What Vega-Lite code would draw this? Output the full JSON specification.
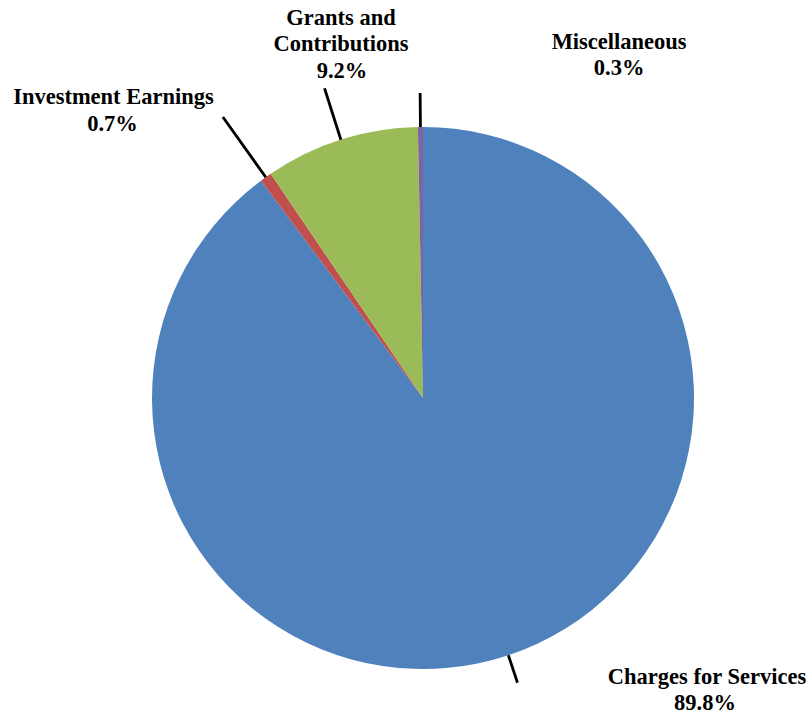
{
  "$schema": "https://vega.github.io/schema/vega-lite/v6.json",
  "width": 778,
  "height": 634,
  "autosize": "none",
  "padding": {"left": 34, "top": 81, "right": 0, "bottom": 0},
  "background": "white",
  "config": {"view": {"stroke": null}},
  "data": {
    "values": [
      {"category": "Charges for Services", "label": "Charges for Services", "share": 0.898, "order": 1},
      {"category": "Investment Earnings", "label": "Investment Earnings", "share": 0.007, "order": 2},
      {"category": "Grants and Contributions", "label": "Grants and\nContributions", "share": 0.092, "order": 3},
      {"category": "Miscellaneous", "label": "Miscellaneous", "share": 0.003, "order": 4}
    ]
  },
  "transform": [
    {"stack": "share", "groupby": [], "sort": [{"field": "order", "order": "ascending"}], "as": ["s0", "s1"]},
    {"fold": ["s0", "s1"], "as": ["edge", "ang"]},
    {
      "aggregate": [
        {"op": "min", "field": "ang", "as": "a0"},
        {"op": "max", "field": "ang", "as": "a1"},
        {"op": "mean", "field": "ang", "as": "mid"},
        {"op": "max", "field": "share", "as": "share"}
      ],
      "groupby": ["category", "label", "order"]
    }
  ],
  "layer": [
    {
      "mark": {"type": "arc", "radius": 271},
      "encoding": {
        "theta": {"field": "a0", "type": "quantitative", "stack": null, "scale": {"domain": [0, 1]}},
        "theta2": {"field": "a1"},
        "color": {
          "field": "category",
          "type": "nominal",
          "scale": {
            "domain": ["Charges for Services", "Investment Earnings", "Grants and Contributions", "Miscellaneous"],
            "range": ["#4F81BD", "#C0504D", "#9BBB59", "#8064A2"]
          },
          "legend": null
        }
      }
    },
    {
      "transform": [{"filter": "datum.order == 1"}],
      "mark": {"type": "arc", "radius": 300, "radius2": 271, "stroke": "black", "fill": "black", "strokeWidth": 2.8},
      "encoding": {"theta": {"field": "mid", "type": "quantitative", "stack": null}, "theta2": {"field": "mid"}}
    },
    {
      "transform": [{"filter": "datum.order == 2"}],
      "mark": {"type": "arc", "radius": 345, "radius2": 271, "stroke": "black", "fill": "black", "strokeWidth": 2.8},
      "encoding": {"theta": {"field": "mid", "type": "quantitative", "stack": null}, "theta2": {"field": "mid"}}
    },
    {
      "transform": [{"filter": "datum.order == 3"}],
      "mark": {"type": "arc", "radius": 325, "radius2": 271, "stroke": "black", "fill": "black", "strokeWidth": 2.8},
      "encoding": {"theta": {"field": "mid", "type": "quantitative", "stack": null}, "theta2": {"field": "mid"}}
    },
    {
      "transform": [{"filter": "datum.order == 4"}],
      "mark": {"type": "arc", "radius": 305, "radius2": 271, "stroke": "black", "fill": "black", "strokeWidth": 2.8},
      "encoding": {"theta": {"field": "mid", "type": "quantitative", "stack": null}, "theta2": {"field": "mid"}}
    },
    {
      "transform": [{"filter": "datum.order == 1"}],
      "mark": {"type": "text", "radius": 300, "dx": 189.5, "dy": 1.3, "align": "center", "baseline": "alphabetic", "font": "Liberation Serif", "fontWeight": "bold", "fontSize": 22.5, "lineHeight": 26.5, "lineBreak": "\n", "color": "black"},
      "encoding": {"theta": {"field": "mid", "type": "quantitative", "stack": null}, "text": {"field": "label"}}
    },
    {
      "transform": [{"filter": "datum.order == 1"}],
      "mark": {"type": "text", "radius": 300, "dx": 187.5, "dy": 26.8, "align": "center", "baseline": "alphabetic", "font": "Liberation Serif", "fontWeight": "bold", "fontSize": 22.5, "color": "black"},
      "encoding": {"theta": {"field": "mid", "type": "quantitative", "stack": null}, "text": {"field": "share", "type": "quantitative", "format": ".1%"}}
    },
    {
      "transform": [{"filter": "datum.order == 2"}],
      "mark": {"type": "text", "radius": 345, "dx": -109.4, "dy": -12.8, "align": "center", "baseline": "alphabetic", "font": "Liberation Serif", "fontWeight": "bold", "fontSize": 22.5, "lineHeight": 26.5, "lineBreak": "\n", "color": "black"},
      "encoding": {"theta": {"field": "mid", "type": "quantitative", "stack": null}, "text": {"field": "label"}}
    },
    {
      "transform": [{"filter": "datum.order == 2"}],
      "mark": {"type": "text", "radius": 345, "dx": -110.4, "dy": 14.2, "align": "center", "baseline": "alphabetic", "font": "Liberation Serif", "fontWeight": "bold", "fontSize": 22.5, "color": "black"},
      "encoding": {"theta": {"field": "mid", "type": "quantitative", "stack": null}, "text": {"field": "share", "type": "quantitative", "format": ".1%"}}
    },
    {
      "transform": [{"filter": "datum.order == 3"}],
      "mark": {"type": "text", "radius": 325, "dx": 16.5, "dy": -63.3, "align": "center", "baseline": "alphabetic", "font": "Liberation Serif", "fontWeight": "bold", "fontSize": 22.5, "lineHeight": 26.5, "lineBreak": "\n", "color": "black"},
      "encoding": {"theta": {"field": "mid", "type": "quantitative", "stack": null}, "text": {"field": "label"}}
    },
    {
      "transform": [{"filter": "datum.order == 3"}],
      "mark": {"type": "text", "radius": 325, "dx": 17.5, "dy": -10.3, "align": "center", "baseline": "alphabetic", "font": "Liberation Serif", "fontWeight": "bold", "fontSize": 22.5, "color": "black"},
      "encoding": {"theta": {"field": "mid", "type": "quantitative", "stack": null}, "text": {"field": "share", "type": "quantitative", "format": ".1%"}}
    },
    {
      "transform": [{"filter": "datum.order == 4"}],
      "mark": {"type": "text", "radius": 305, "dx": 199, "dy": -44, "align": "center", "baseline": "alphabetic", "font": "Liberation Serif", "fontWeight": "bold", "fontSize": 22.5, "lineHeight": 26.5, "lineBreak": "\n", "color": "black"},
      "encoding": {"theta": {"field": "mid", "type": "quantitative", "stack": null}, "text": {"field": "label"}}
    },
    {
      "transform": [{"filter": "datum.order == 4"}],
      "mark": {"type": "text", "radius": 305, "dx": 199, "dy": -18, "align": "center", "baseline": "alphabetic", "font": "Liberation Serif", "fontWeight": "bold", "fontSize": 22.5, "color": "black"},
      "encoding": {"theta": {"field": "mid", "type": "quantitative", "stack": null}, "text": {"field": "share", "type": "quantitative", "format": ".1%"}}
    }
  ]
}
